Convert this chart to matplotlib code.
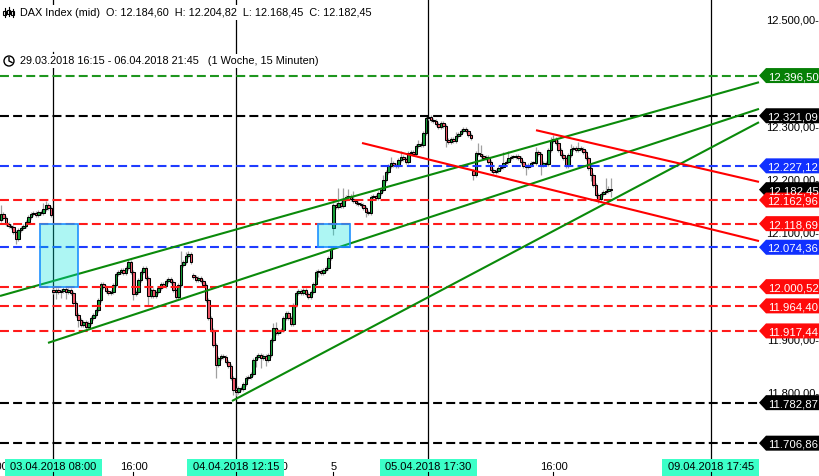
import matplotlib
matplotlib.use("Agg")
import matplotlib.pyplot as plt
from matplotlib.patches import Polygon, Rectangle, Circle
from matplotlib.lines import Line2D
from matplotlib.transforms import IdentityTransform
import numpy as np

plt.rcParams['font.family'] = ['Liberation Sans', 'DejaVu Sans']

W, H = 820, 476

# ---------------- data ----------------
# 15-minute candles, index 0 = 29.03.2018 16:15, 23 = 03.04.2018 08:00,
# 79 = 04.04.2018 08:00, 135 = 05.04.2018 08:00, 191 = 06.04.2018 08:00
closes = [
    12129, 12126, 12137, 12129, 12118, 12114, 12112, 12103, 12090, 12107,
    12110, 12114, 12122, 12131, 12137, 12139, 12135, 12141, 12139, 12146,
    12154, 12148, 12135, 11990, 11994, 11990, 11992, 11996, 11990, 11994,
    11989, 11970, 11947, 11938, 11929, 11934, 11925, 11932, 11942, 11947,
    11957, 11975, 12006, 12000, 11992, 11989, 11990, 12004, 12024, 12028,
    12032, 12026, 12035, 12047, 12028, 11987, 11990, 12013, 12028, 12035,
    12017, 11983, 11994, 11983, 11990, 11998, 12006, 12002, 12011, 12015,
    12009, 11994, 11981, 12004, 12041, 12047, 12058, 12062, 12047, 12019,
    12013, 12017, 12011, 12004, 11975, 11942, 11919, 11891, 11853, 11867,
    11870, 11868, 11859, 11852, 11829, 11807, 11803, 11810, 11808, 11818,
    11829, 11831, 11836, 11863, 11868, 11872, 11867, 11870, 11863, 11872,
    11900, 11923, 11913, 11917, 11919, 11942, 11951, 11942, 11930, 11966,
    11989, 11992, 11989, 11994, 11987, 11981, 11990, 12006, 12028, 12030,
    12026, 12032, 12035, 12054, 12071, 12154, 12150, 12157, 12152, 12165,
    12169, 12170, 12165, 12161, 12157, 12156, 12154, 12148, 12141, 12139,
    12169, 12170, 12167, 12176, 12182, 12201, 12216, 12227, 12232, 12229,
    12227, 12238, 12244, 12240, 12234, 12251, 12253, 12249, 12264, 12268,
    12266, 12289, 12317, 12319, 12313, 12311, 12306, 12300, 12308, 12302,
    12276, 12272, 12278, 12274, 12283, 12287, 12293, 12296, 12293, 12285,
    12279, 12210, 12251, 12249, 12246, 12242, 12244, 12234, 12219, 12216,
    12218, 12223, 12225, 12232, 12234, 12242, 12244, 12244, 12246, 12242,
    12234, 12227, 12225, 12229, 12232, 12232, 12253, 12249, 12229, 12232,
    12231, 12257, 12274, 12278, 12270, 12257, 12247, 12242, 12227, 12247,
    12259, 12261, 12257, 12261, 12259, 12253, 12242, 12223, 12210, 12191,
    12172, 12165, 12174, 12178, 12180, 12184.60, 12182.45,
]
first_open = 12120
day_opens = {23: 11994, 79: 12022, 135: 12110, 191: 12218}
wick_default = 4
special_highs = {2: 12154, 19: 12158, 20: 12162, 53: 12052, 74: 12068, 76: 12066,
                 77: 12068, 111: 11932, 112: 11935, 137: 12185, 139: 12186,
                 141: 12184, 143: 12180, 155: 12210, 158: 12243, 162: 12255,
                 169: 12275, 172: 12321.09, 184: 12290, 193: 12270, 194: 12266,
                 203: 12253, 205: 12255, 216: 12262, 222: 12281, 223: 12285,
                 225: 12275, 230: 12268, 233: 12272, 244: 12204.82, 246: 12204.82}
special_lows = {8: 12080, 24: 11978, 26: 11980, 28: 11978, 33: 11925, 36: 11918,
                55: 11975, 61: 11966, 88: 11830, 95: 11797, 96: 11795, 104: 11850,
                106: 11848, 108: 11852, 120: 11975, 129: 12018, 135: 12097,
                148: 12132, 180: 12262, 191: 12200, 212: 12210, 218: 12210,
                238: 12198, 241: 12158, 246: 12168.45}

levels = [12396.50, 12321.09, 12227.12, 12162.96, 12118.69, 12074.36,
          12000.52, 11964.40, 11917.44, 11782.87, 11706.86]
level_kinds = ['green', 'black', 'blue', 'red', 'red', 'blue',
               'red', 'red', 'red', 'black', 'black']
current_price = 12182.45

green_lines = [[(1.6, 11983), (305.2, 12384)],
               [(20.8, 11895), (305.2, 12334)],
               [(94.4, 11786), (305.2, 12309)]]
red_lines = [[(146.4, 12270), (305.2, 12086)],
             [(216.0, 12294), (305.2, 12197)]]

gap_boxes = [(17.6, 32.8, 12000.52, 12118.69),
             (128.8, 141.6, 12074.36, 12118.69)]

marker_idx = [23, 96, 173, 286]
marker_labels = ['03.04.2018 08:00', '04.04.2018 12:15',
                 '05.04.2018 17:30', '09.04.2018 17:45']
tick_idx = [-1, 55, 111, 135, 223]
tick_labels = ['16:00', '16:00', '16:00', '5', '16:00']

price_ticks = [12500, 12300, 12200, 12100, 11900, 11800]

header1 = 'DAX Index (mid)  O: 12.184,60  H: 12.204,82  L: 12.168,45  C: 12.182,45'
header2 = '29.03.2018 16:15 - 06.04.2018 21:45   (1 Woche, 15 Minuten)'

# ---------------- colours ----------------
col = {'green': '#1e961e', 'black': '#000000', 'blue': '#1f3cff', 'red': '#ff1a1a'}
tagcol = {'green': '#068006', 'black': '#000000', 'blue': '#1030ff', 'red': '#ff0a0a'}


def de(v):
    s = f"{v:,.2f}"
    return s.replace(',', 'X').replace('.', ',').replace('X', '.')


# ---------------- figure ----------------
fig = plt.figure(figsize=(W / 100, H / 100), dpi=100)
ax = fig.add_axes([0, 0, 760 / W, 1])
ax.set_xlim(1.6, 305.6)
ax.set_ylim(12300 - 349 * 1.876, 12300 + 127 * 1.876)
ax.axis('off')

n = len(closes)
c = np.array(closes, dtype=float)
o = np.empty(n)
o[0] = first_open
o[1:] = c[:-1]
for k, v in day_opens.items():
    o[k] = v
hi = np.maximum(o, c) + wick_default
lo = np.minimum(o, c) - wick_default
for k, v in special_highs.items():
    hi[k] = max(hi[k], v)
for k, v in special_lows.items():
    lo[k] = min(lo[k], v)
idx = np.arange(n)

ax.vlines(idx, lo, hi, color='#a0a0a0', lw=0.9, zorder=2)
body_lo = np.minimum(o, c)
body_h = np.maximum(np.abs(c - o), 2.0)
fc = np.where(c >= o, '#17a03a', '#f0586a')
ax.bar(idx, body_h, bottom=body_lo, width=0.85, color=fc, edgecolor='black',
       linewidth=0.75, zorder=3)

# vertical markers
for mi in marker_idx:
    if mi == 23:
        ax.plot([mi, mi], [ax.get_ylim()[0], 12300 + 75 * 1.876], color='black', lw=0.9, zorder=1)
        ax.plot([mi, mi], [12300 + 122 * 1.876, 12300 + 127 * 1.876], color='black', lw=0.9, zorder=1)
    else:
        ax.axvline(mi, color='black', lw=0.9, zorder=1)

# horizontal levels
for lv, kd in zip(levels, level_kinds):
    ax.axhline(lv, color=col[kd], lw=1.5, ls=(0, (4.3, 2.0)), zorder=4)

# trend lines
for seg in green_lines:
    (x0, y0), (x1, y1) = seg
    ax.plot([x0, x1], [y0, y1], color='#0a8a0a', lw=1.5, zorder=5, solid_capstyle='butt')
for seg in red_lines:
    (x0, y0), (x1, y1) = seg
    ax.plot([x0, x1], [y0, y1], color='#ff0000', lw=1.5, zorder=5, solid_capstyle='butt')

# gap boxes
for (a, b, p0, p1) in gap_boxes:
    ax.add_patch(Rectangle((a, p0), b - a, p1 - p0, facecolor=(0.0, 0.9, 0.86, 0.32),
                           edgecolor='#1e90ff', lw=1.2, zorder=6))


def ydisp(price):
    return ax.transData.transform((0, price))[1]


def xdisp(i):
    return ax.transData.transform((i, 0))[0]


# right price axis labels
for p in price_ticks:
    fig.text(819 / W, ydisp(p) / H, de(p) + '-', ha='right', va='center',
             fontsize=8, color='black', zorder=1)


def tag(price, kind):
    yc = ydisp(price)
    hh = 7.5
    pts = [(759, yc), (766, yc + hh), (821, yc + hh), (821, yc - hh), (766, yc - hh)]
    fig.add_artist(Polygon(pts, closed=True, transform=IdentityTransform(),
                           facecolor=tagcol[kind], edgecolor='none', zorder=5))
    fig.text(793 / W, (yc - 0.5) / H, de(price), ha='center', va='center_baseline',
             fontsize=8.2, color='white', zorder=6)


tag(current_price, 'black')
for lv, kd in zip(levels, level_kinds):
    tag(lv, kd)

# x-axis tick labels
for ti, tl in zip(tick_idx, tick_labels):
    xp = xdisp(ti)
    fig.text(xp / W, 10 / H, tl, ha='center', va='center_baseline', fontsize=8, color='black')
    fig.add_artist(Line2D([xp, xp], [0, 4], transform=IdentityTransform(), color='black', lw=0.8))

for mi, ml in zip(marker_idx, marker_labels):
    xp = xdisp(mi)
    fig.add_artist(Rectangle((xp - 48.5, 0), 97, 17.5, transform=IdentityTransform(),
                             facecolor='#3cffc8', edgecolor='none', zorder=4))
    fig.text(xp / W, 6.5 / H, ml, ha='center', va='baseline', fontsize=8, color='black', zorder=5)
    fig.add_artist(Line2D([xp, xp], [0, 4], transform=IdentityTransform(), color='black', lw=0.8, zorder=6))

# header
fig.text(20 / W, 1 - 12.5 / H, header1, ha='left', va='center', fontsize=7.8,
         bbox=dict(facecolor='white', edgecolor='none', pad=1.5))
fig.text(20 / W, 1 - 61 / H, header2, ha='left', va='center', fontsize=7.8,
         bbox=dict(facecolor='white', edgecolor='none', pad=1.5))

# header icons
for xo, (a, b) in zip([4.5, 8.5, 12.5], [(8, 17), (7, 16), (9, 17)]):
    fig.add_artist(Line2D([xo, xo], [H - a, H - b], transform=IdentityTransform(), color='black', lw=0.8))
    fig.add_artist(Rectangle((xo - 1.3, H - b + 2), 2.6, 4, transform=IdentityTransform(),
                             facecolor='white', edgecolor='black', lw=0.8))
fig.add_artist(Circle((9, H - 61), 5, transform=IdentityTransform(), facecolor='none',
                      edgecolor='black', lw=1.0))
fig.add_artist(Line2D([9, 9, 12], [H - 57.5, H - 61, H - 62.5], transform=IdentityTransform(),
                      color='black', lw=1.0))

fig.savefig('out.png', dpi=100)
